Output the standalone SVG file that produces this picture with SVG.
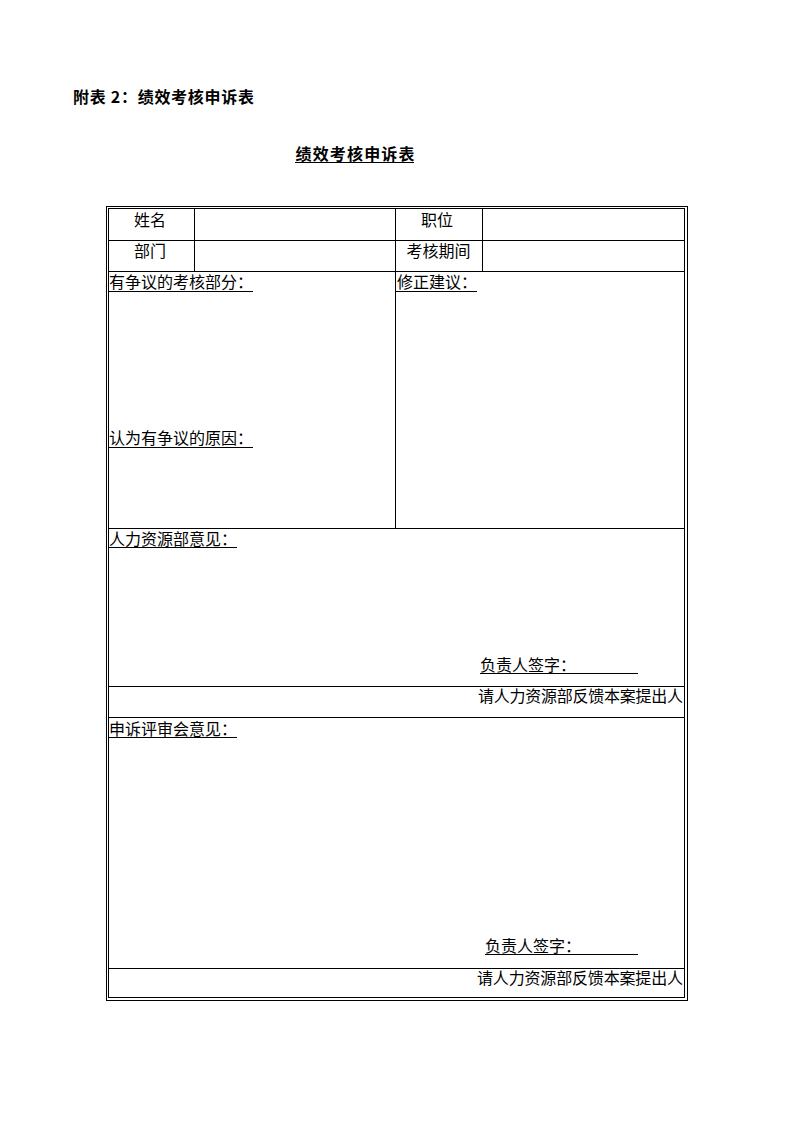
<svg xmlns="http://www.w3.org/2000/svg" width="794" height="1123" viewBox="0 0 794 1123">
<style>
text{font-family:"Noto Sans CJK SC","Noto Sans",sans-serif;font-size:16px;fill:#000}
.b{font-weight:bold}
.ln{stroke:#000;stroke-width:1;fill:none}
.c{text-anchor:middle}
</style>
<rect width="794" height="1123" fill="#fff"/>
<g id="heading">
<text class="b" x="73" y="103" textLength="181">附表 2：绩效考核申诉表</text>
</g>
<g id="title">
<text class="b c" x="355" y="160" font-size="17" textLength="119">绩效考核申诉表</text>
<line class="ln" x1="295" y1="162.5" x2="414" y2="162.5"/>
</g>
<g id="connectors">
<rect class="ln" x="106.5" y="206.5" width="581" height="794"/>
<rect class="ln" x="108.5" y="208.5" width="576" height="789"/>
<line class="ln" x1="108" y1="240.5" x2="685" y2="240.5"/>
<line class="ln" x1="108" y1="271.5" x2="685" y2="271.5"/>
<line class="ln" x1="108" y1="528.5" x2="685" y2="528.5"/>
<line class="ln" x1="108" y1="686.5" x2="685" y2="686.5"/>
<line class="ln" x1="108" y1="717.5" x2="685" y2="717.5"/>
<line class="ln" x1="108" y1="968.5" x2="685" y2="968.5"/>
<line class="ln" x1="194.5" y1="208" x2="194.5" y2="272"/>
<line class="ln" x1="395.5" y1="208" x2="395.5" y2="529"/>
<line class="ln" x1="482.5" y1="208" x2="482.5" y2="272"/>
</g>
<g id="name-label"><text class="c" x="150" y="226">姓名</text></g>
<g id="dept-label"><text class="c" x="150" y="257">部门</text></g>
<g id="position-label"><text class="c" x="437" y="226">职位</text></g>
<g id="period-label"><text class="c" x="438.5" y="257">考核期间</text></g>
<g id="disputed-part">
<text x="109" y="288">有争议的考核部分：</text>
<line class="ln" x1="108" y1="291.5" x2="253" y2="291.5"/>
</g>
<g id="reason">
<text x="109" y="444">认为有争议的原因：</text>
<line class="ln" x1="108" y1="447.5" x2="253" y2="447.5"/>
</g>
<g id="suggestion">
<text x="397" y="288">修正建议：</text>
<line class="ln" x1="396" y1="291.5" x2="477" y2="291.5"/>
</g>
<g id="hr-opinion">
<text x="109" y="545">人力资源部意见：</text>
<line class="ln" x1="108" y1="547.5" x2="237" y2="547.5"/>
<text x="480" y="671">负责人签字：</text>
<line class="ln" x1="480" y1="673.5" x2="638" y2="673.5"/>
<text x="478" y="702" textLength="205">请人力资源部反馈本案提出人</text>
</g>
<g id="committee-opinion">
<text x="109" y="735">申诉评审会意见：</text>
<line class="ln" x1="108" y1="737.5" x2="237" y2="737.5"/>
<text x="485" y="952">负责人签字：</text>
<line class="ln" x1="485" y1="954.5" x2="638" y2="954.5"/>
<text x="477" y="984" textLength="206">请人力资源部反馈本案提出人</text>
</g>
</svg>
